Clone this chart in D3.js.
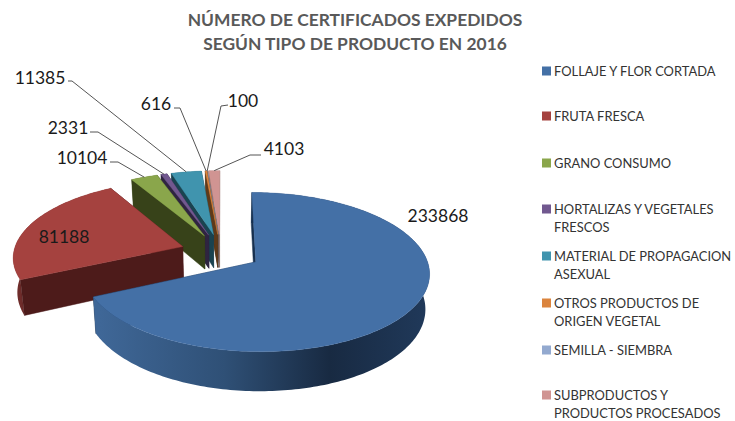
<!DOCTYPE html>
<html><head><meta charset="utf-8">
<script src="https://cdn.jsdelivr.net/npm/d3@7/dist/d3.min.js"></script>
<style>html,body{margin:0;padding:0;background:#fff}svg{display:block}text{font-family:Lato,"Open Sans",sans-serif}</style>
</head><body><svg id="c" width="735" height="421"></svg>
<script>
const categories = ["FOLLAJE Y FLOR CORTADA","FRUTA FRESCA","GRANO CONSUMO","HORTALIZAS Y VEGETALES FRESCOS","MATERIAL DE PROPAGACION ASEXUAL","OTROS PRODUCTOS DE ORIGEN VEGETAL","SEMILLA - SIEMBRA","SUBPRODUCTOS Y PRODUCTOS PROCESADOS"];
const values = [233868,81188,10104,2331,11385,616,100,4103];
const legendLines = [["FOLLAJE Y FLOR CORTADA"],["FRUTA FRESCA"],["GRANO CONSUMO"],["HORTALIZAS Y VEGETALES","FRESCOS"],["MATERIAL DE PROPAGACION","ASEXUAL"],["OTROS PRODUCTOS DE","ORIGEN VEGETAL"],["SEMILLA - SIEMBRA"],["SUBPRODUCTOS Y","PRODUCTOS PROCESADOS"]];
const topColors = ["#4470a6","#a5423f","#8aa64b","#71588f","#4094ae","#db843d","#93a9cf","#d09492"];
const wallColors = ["#17304f","#4d1b1a","#374219","#2f2441","#1a4350","#5e3a1a","#4a5670","#8a6f66"];
const rimColors = ["url(#blueRim)","#6e2c2a","#4a5a26","#3d2f52","#235a6a","#7a4a20","#5a6880","#9a7a74"];
const titleLines = ["NÚMERO DE CERTIFICADOS EXPEDIDOS","SEGÚN TIPO DE PRODUCTO EN 2016"];

// layout
const cx=221, cy=252, R=169, Ry=75.8, k=0.125, explode=0.24, depth=34, shrink=0.98;
const labelPos=[[438,215],[64,236],[82,157],[68,127],[40,77],[156,103],[243,100],[284,148]];
const elbows=[null,null,[[118,162],[110,162]],[[98,132],[90,132]],[[72,81],[68,81]],[[180,108],[174,108]],[[221,106],[228,105]],[[250,155],[261,155]]];
const legendY=[71,116,163,209,256,303,350,395];
const lineH=18;

const svg=d3.select("#c");
const defs=svg.append("defs");
const grad=defs.append("linearGradient").attr("id","blueRim").attr("gradientUnits","userSpaceOnUse")
  .attr("x1",100).attr("x2",428).attr("y1",0).attr("y2",0);
[[0,"#3f6797"],[0.38,"#2f5076"],[0.7,"#182a42"],[1,"#20395a"]].forEach(s=>grad.append("stop").attr("offset",s[0]).attr("stop-color",s[1]));

const arcs=d3.pie().sort(null).value(d=>d).startAngle(0).endAngle(2*Math.PI)(values);
const line=d3.line();

function project(u,v,bottom){
  const w=1-k*v;
  let x=cx+R*u/w, y=cy+Ry*v/w;
  if(bottom){x=cx+(x-cx)*shrink; y+=depth/w;}
  return [x,y];
}
const onDisc=(a,mid)=>[explode*Math.sin(mid)+Math.sin(a), -explode*Math.cos(mid)-Math.cos(a)];
const apexOf=mid=>[explode*Math.sin(mid), -explode*Math.cos(mid)];
function rimAngles(d){const n=Math.max(2,Math.ceil((d.endAngle-d.startAngle)/0.02));return d3.range(n+1).map(i=>d.startAngle+(d.endAngle-d.startAngle)*i/n);}

// paint far slices first: small ones from the right, then red, then blue
const order=d3.range(values.length).filter(i=>i>1).reverse().concat([1,0]);
const gSlices=svg.append("g");
order.forEach(i=>{
  const d=arcs[i], mid=(d.startAngle+d.endAngle)/2, ap=apexOf(mid), as=rimAngles(d);
  const g=gSlices.append("g");
  const top=as.map(a=>onDisc(a,mid));
  const pT=([u,v])=>project(u,v,false), pB=([u,v])=>project(u,v,true);
  const wall=e=>g.append("path").attr("d",line([pT(ap),pT(e),pB(e),pB(ap)])+"Z").attr("fill",wallColors[i]).attr("stroke",wallColors[i]).attr("stroke-width",0.5);
  wall(top[top.length-1]);
  g.append("path").attr("d",line(top.map(pT).concat(top.slice().reverse().map(pB)))+"Z").attr("fill",rimColors[i]);
  wall(top[0]);
  g.append("path").attr("d",line([pT(ap)].concat(top.map(pT)))+"Z").attr("fill",topColors[i]).attr("stroke",topColors[i]).attr("stroke-width",0.4);
});

// leader lines
const gLead=svg.append("g").attr("fill","none").attr("stroke","#555").attr("stroke-width",1);
arcs.forEach((d,i)=>{
  if(!elbows[i])return;
  const mid=(d.startAngle+d.endAngle)/2;
  const [u,v]=onDisc(mid,mid);
  const e=project(u,v,false);
  gLead.append("path").attr("d",line([e].concat(elbows[i])));
});

// value labels
svg.append("g").selectAll("text").data(values).join("text")
  .attr("x",(d,i)=>labelPos[i][0]).attr("y",(d,i)=>labelPos[i][1])
  .attr("text-anchor","middle").attr("dominant-baseline","central")
  .attr("font-size",17.5).attr("fill","#1a1a1a").text(d=>d);

// title
svg.append("g").selectAll("text").data(titleLines).join("text")
  .attr("x",(d,i)=>i?355:355).attr("y",(d,i)=>i?50:26).attr("text-anchor","middle")
  .attr("font-size",17.4).attr("font-weight",700).attr("fill","#595959").text(d=>d);

// legend
const lg=svg.append("g").selectAll("g").data(categories).join("g");
lg.append("rect").attr("x",542).attr("y",(d,i)=>legendY[i]-4.5).attr("width",9).attr("height",9).attr("fill",(d,i)=>topColors[i]);
lg.each(function(d,i){
  d3.select(this).selectAll("text").data(legendLines[i]).join("text")
    .attr("x",554).attr("y",(t,j)=>legendY[i]+j*lineH).attr("dominant-baseline","central")
    .attr("font-size",12.9).attr("fill","#333").text(t=>t);
});
</script></body></html>
